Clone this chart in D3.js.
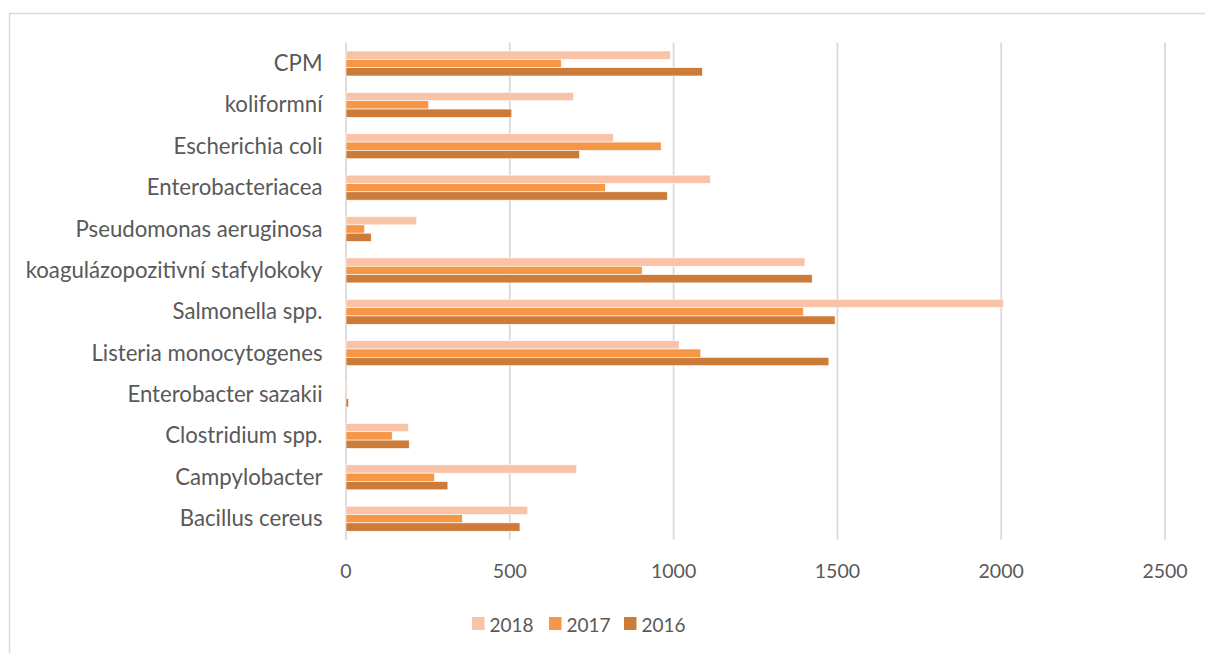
<!DOCTYPE html>
<html>
<head>
<meta charset="utf-8">
<script src="https://cdn.jsdelivr.net/npm/d3@7"></script>
<style>
  html, body { margin: 0; padding: 0; background: #fff; }
  svg { display: block; }
  text { font-family: Lato, "Open Sans", sans-serif; fill: #595959; }
</style>
</head>
<body>
<svg id="chart" width="1205" height="653"></svg>
<script>
// Categories, top to bottom
const categories = [
  "CPM",
  "koliformní",
  "Escherichia coli",
  "Enterobacteriacea",
  "Pseudomonas aeruginosa",
  "koagulázopozitivní stafylokoky",
  "Salmonella spp.",
  "Listeria monocytogenes",
  "Enterobacter sazakii",
  "Clostridium spp.",
  "Campylobacter",
  "Bacillus cereus"
];

// Series (legend order)
const seriesNames = ["2018", "2017", "2016"];
const values2018 = [990, 695, 816, 1113, 216, 1401, 2007, 1017, 4, 191, 704, 555];
const values2017 = [657, 252, 962, 792, 57, 904, 1396, 1083, 0, 141, 270, 355];
const values2016 = [1088, 506, 713, 981, 77, 1423, 1493, 1474, 8, 193, 311, 531];
const xTicks = [0, 500, 1000, 1500, 2000, 2500];

const seriesValues = { "2018": values2018, "2017": values2017, "2016": values2016 };
const colors = { "2018": "#F9C3A8", "2017": "#F69647", "2016": "#CC7B38" };

const svg = d3.select("#chart");

// Outer frame of the chart area
svg.append("rect")
  .attr("x", 9.5).attr("y", 13.5)
  .attr("width", 1210).attr("height", 660)
  .attr("fill", "#fff")
  .attr("stroke", "#D9D9D9")
  .attr("stroke-width", 1.5);

const plot = { left: 346, right: 1165, top: 42.8, bottom: 539.4 };

const x = d3.scaleLinear().domain([0, 2500]).range([plot.left, plot.right]);
const y = d3.scaleBand().domain(categories).range([plot.top, plot.bottom]).paddingInner(0.396).paddingOuter(0.198);
const ySeries = d3.scaleBand().domain(seriesNames).range([0, y.bandwidth()]);

// Vertical gridlines
svg.append("g")
  .selectAll("line")
  .data(xTicks)
  .join("line")
  .attr("x1", d => x(d)).attr("x2", d => x(d))
  .attr("y1", plot.top).attr("y2", plot.bottom)
  .attr("stroke", "#D9D9D9")
  .attr("stroke-width", 1.8);

// Bars
const groups = svg.append("g")
  .selectAll("g")
  .data(categories)
  .join("g")
  .attr("transform", d => `translate(0,${y(d)})`);

groups.selectAll("rect")
  .data((c, i) => seriesNames.map(s => ({ s, v: seriesValues[s][i] })))
  .join("rect")
  .attr("x", x(0))
  .attr("y", d => ySeries(d.s))
  .attr("width", d => x(d.v) - x(0))
  .attr("height", ySeries.bandwidth())
  .attr("fill", d => colors[d.s])
  .attr("stroke", "#fff")
  .attr("stroke-width", 0.6);

// Category labels
svg.append("g")
  .selectAll("text")
  .data(categories)
  .join("text")
  .attr("x", 322.5)
  .attr("y", d => y(d) + y.bandwidth() / 2 + 7.5)
  .attr("text-anchor", "end")
  .attr("font-size", 22.2)
  .text(d => d);

// X axis tick labels
svg.append("g")
  .selectAll("text")
  .data(xTicks)
  .join("text")
  .attr("x", d => x(d))
  .attr("y", 577.5)
  .attr("text-anchor", "middle")
  .attr("font-size", 19.5)
  .text(d => d);

// Legend
const legendX = [472, 549, 624];
const legend = svg.append("g")
  .selectAll("g")
  .data(seriesNames)
  .join("g")
  .attr("transform", (d, i) => `translate(${legendX[i]},617)`);

legend.append("rect")
  .attr("width", 12.5).attr("height", 13)
  .attr("fill", d => colors[d]);

legend.append("text")
  .attr("x", 17.5)
  .attr("y", 14.5)
  .attr("font-size", 19)
  .text(d => d);
</script>
</body>
</html>
